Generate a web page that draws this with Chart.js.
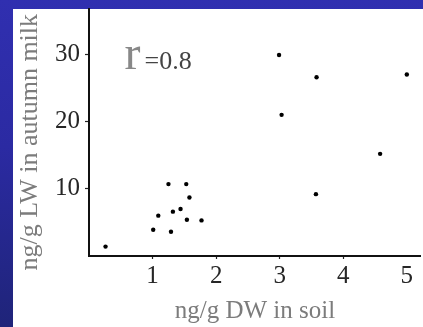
<!DOCTYPE html>
<html>
<head>
<meta charset="utf-8">
<script src="https://cdn.jsdelivr.net/npm/chart.js@4/dist/chart.umd.min.js"></script>
<style>
  html, body { margin: 0; padding: 0; }
  body {
    width: 423px; height: 327px; overflow: hidden; position: relative;
    background: linear-gradient(180deg, #302fb0 0%, #2b2aa2 45%, #1f2479 100%);
  }
  #panel { position: absolute; left: 13px; top: 9px; width: 410px; height: 318px; background: #fff; }
  #c { position: absolute; left: 0; top: 0; }
</style>
</head>
<body>
<div id="panel"></div>
<canvas id="c" width="423" height="327"></canvas>
<script>
// Data
const soilDW   = [0.26, 1.01, 1.09, 1.25, 1.29, 1.32, 1.44, 1.53, 1.54, 1.58, 1.77, 2.99, 3.03, 3.58, 3.57, 4.58, 5.00];
const milkLW   = [1.4, 3.9, 6.0, 10.7, 3.6, 6.6, 7.0, 10.7, 5.4, 8.7, 5.3, 29.9, 21.0, 26.6, 9.2, 15.2, 27.0];
const xTicks   = [1, 2, 3, 4, 5];
const yTicks   = [10, 20, 30];
const xTitle   = 'ng/g DW in soil';
const yTitle   = 'ng/g LW in autumn milk';
const corrSymbol = 'r';
const corrValue  = '=0.8';

const points = soilDW.map((x, i) => ({ x: x, y: milkLW[i] }));
const serif = '"Liberation Serif", "Times New Roman", serif';

const annotation = {
  id: 'corrLabel',
  afterDraw(chart) {
    const ctx = chart.ctx;
    const xs = chart.scales.x, ys = chart.scales.y;
    ctx.save();
    ctx.textBaseline = 'alphabetic';
    ctx.textAlign = 'left';
    ctx.fillStyle = '#888';
    ctx.font = '48px ' + serif;
    const bx = xs.getPixelForValue(0.56);
    const by = ys.getPixelForValue(27.8);
    ctx.fillText(corrSymbol, bx, by);
    ctx.fillStyle = '#444';
    ctx.font = '26px ' + serif;
    ctx.fillText(corrValue, bx + 20, by - 0.5);
    ctx.restore();
  }
};

new Chart(document.getElementById('c'), {
  type: 'scatter',
  data: {
    datasets: [{
      data: points,
      backgroundColor: '#000',
      borderColor: '#000',
      pointRadius: 2.2,
      pointBorderWidth: 0,
      pointHoverRadius: 2.2
    }]
  },
  plugins: [annotation],
  options: {
    responsive: false,
    devicePixelRatio: 1,
    animation: false,
    events: [],
    layout: { padding: { left: 13, top: 9, right: 0, bottom: 0 } },
    plugins: { legend: { display: false }, tooltip: { enabled: false } },
    scales: {
      x: {
        type: 'linear',
        min: 0,
        max: 5.22,
        afterFit(s) { s.height = 71; s.paddingLeft = 0; s.paddingRight = 0; },
        afterBuildTicks(s) { s.ticks = xTicks.map(v => ({ value: v })); },
        border: { display: true, color: '#111', width: 2 },
        grid: {
          drawOnChartArea: false,
          tickLength: 3,
          tickWidth: 1.2,
          tickColor: (c) => (c.tick && c.tick.value === 5 ? 'rgba(0,0,0,0)' : '#222')
        },
        ticks: {
          padding: 2,
          color: '#262626',
          font: { family: serif, size: 25 },
          maxRotation: 0,
          autoSkip: false
        },
        title: {
          display: true,
          text: xTitle,
          color: '#7c7c7c',
          font: { family: serif, size: 25 },
          padding: { top: 0, bottom: 1 }
        }
      },
      y: {
        type: 'linear',
        min: 0,
        max: 36.75,
        afterFit(s) { s.width = 76; s.paddingTop = 0; s.paddingBottom = 0; },
        afterBuildTicks(s) { s.ticks = yTicks.map(v => ({ value: v })); },
        border: { display: true, color: '#111', width: 2 },
        grid: {
          drawOnChartArea: false,
          tickLength: 4,
          tickWidth: 1.2,
          tickColor: '#222'
        },
        ticks: {
          padding: 5,
          color: '#262626',
          font: { family: serif, size: 25 },
          autoSkip: false
        },
        title: {
          display: true,
          text: yTitle + '   ',
          color: '#7c7c7c',
          font: { family: serif, size: 26 },
          padding: { top: 2, bottom: 0 }
        }
      }
    }
  }
});
</script>
</body>
</html>
